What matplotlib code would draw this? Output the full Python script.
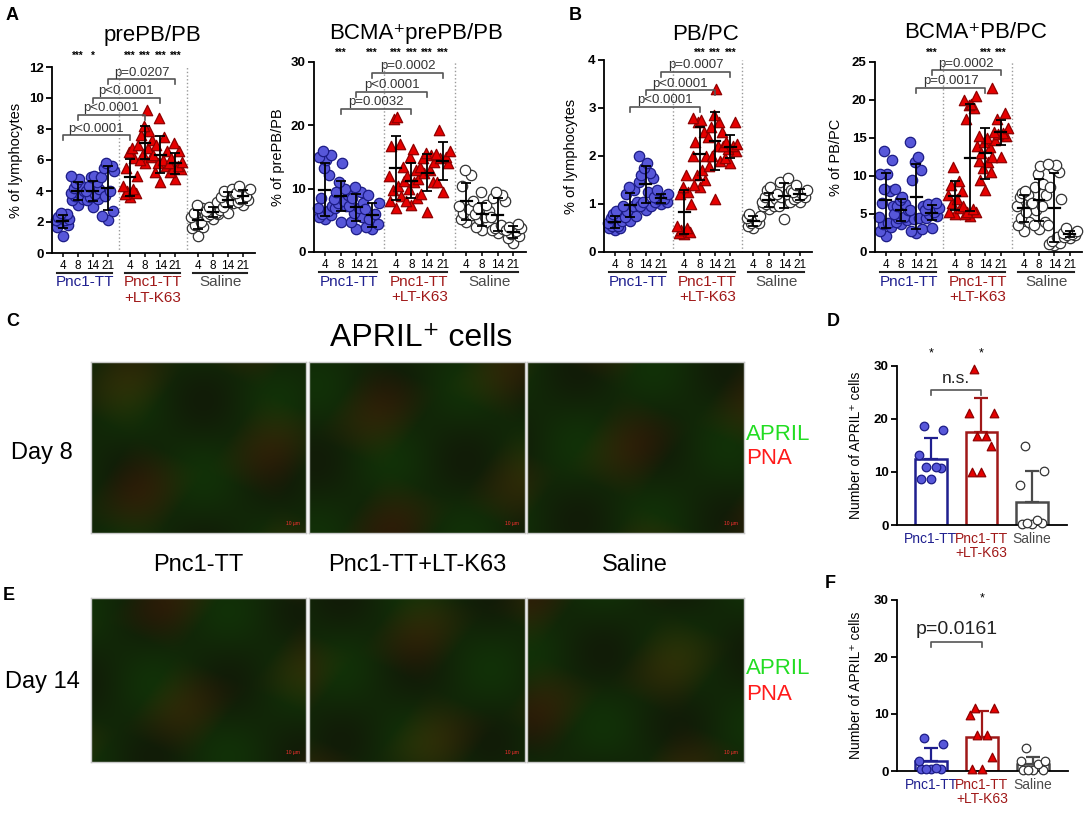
import numpy as np
import matplotlib
matplotlib.use("Agg")
import matplotlib.pyplot as plt
from matplotlib.transforms import blended_transform_factory, ScaledTranslation

# ---------------- data ----------------
days = ['4', '8', '14', '21']
groups = ['Pnc1-TT', 'Pnc1-TT\n+LT-K63', 'Saline']

# A: prePB/PB (% of lymphocytes), per day 4/8/14/21
prepb_pnc1 = [[1.1, 1.7, 1.8, 2.0, 2.1, 2.1, 2.2, 2.3, 2.5, 2.6],
              [3.1, 3.4, 3.5, 3.7, 3.8, 3.9, 4.0, 4.2, 4.3, 4.5, 4.8, 5.0],
              [3.0, 3.4, 3.5, 3.6, 3.8, 4.0, 4.1, 4.3, 4.6, 4.9, 5.0],
              [2.1, 2.4, 2.7, 3.7, 4.0, 4.9, 5.3, 5.5, 5.6, 5.8]]
prepb_ltk63 = [[3.6, 3.8, 3.9, 4.0, 4.1, 4.3, 5.0, 5.5, 6.1, 6.5, 6.8],
               [5.8, 6.0, 6.2, 6.4, 6.8, 7.0, 7.3, 7.6, 7.9, 8.2, 9.2],
               [4.6, 5.2, 5.6, 5.8, 6.0, 6.3, 6.6, 7.0, 7.5, 8.7],
               [4.8, 5.2, 5.4, 5.5, 5.6, 5.8, 5.9, 6.1, 6.6, 7.1]]
prepb_saline = [[1.1, 1.6, 1.7, 1.8, 2.0, 2.3, 2.5, 2.6, 2.9, 3.1],
                [2.2, 2.4, 2.5, 2.5, 2.6, 2.7, 2.8, 3.0, 3.3],
                [2.6, 3.0, 3.2, 3.3, 3.4, 3.6, 3.8, 4.0, 4.1],
                [3.1, 3.3, 3.4, 3.5, 3.7, 3.9, 4.1, 4.3]]

# A: BCMA+ prePB/PB (% of prePB/PB)
bcma_prepb_pnc1 = [[5.2, 5.5, 5.8, 6.0, 6.5, 7.0, 7.3, 8.5, 12.2, 13.3, 14.5, 15.0, 15.3, 16.0],
                   [4.8, 7.0, 7.3, 7.8, 8.0, 8.3, 9.0, 9.5, 10.0, 11.0, 14.0],
                   [3.7, 4.7, 5.5, 6.2, 7.0, 7.3, 7.7, 8.5, 9.5, 10.3],
                   [3.7, 4.0, 4.5, 5.2, 6.0, 6.8, 7.7, 9.0]]
bcma_prepb_ltk63 = [[7.0, 8.0, 8.8, 9.8, 10.5, 12.0, 13.5, 16.7, 17.0, 21.0, 21.3],
                    [7.5, 8.0, 8.5, 10.0, 11.0, 11.2, 11.5, 12.0, 13.0, 15.0, 16.3],
                    [6.3, 9.2, 11.0, 12.5, 13.0, 13.5, 14.2, 14.8, 15.3, 15.7],
                    [9.5, 11.0, 14.0, 14.8, 15.0, 15.5, 16.0, 19.2]]
bcma_prepb_saline = [[4.8, 5.2, 5.8, 6.2, 6.8, 7.3, 8.0, 10.5, 12.2, 13.0],
                     [3.5, 4.0, 4.8, 5.2, 5.5, 6.0, 6.5, 7.0, 7.5, 9.5],
                     [3.0, 3.5, 3.7, 3.8, 4.2, 5.5, 8.0, 8.5, 9.0, 9.5],
                     [1.5, 2.2, 2.5, 2.8, 3.3, 3.5, 3.8, 4.0, 4.5]]

# B: PB/PC (% of lymphocytes)
pbpc_pnc1 = [[0.45, 0.5, 0.5, 0.55, 0.55, 0.6, 0.65, 0.7, 0.75, 0.8, 0.85],
             [0.65, 0.72, 0.75, 0.85, 0.95, 0.95, 1.05, 1.2, 1.3, 1.35],
             [0.88, 0.95, 0.95, 1.05, 1.25, 1.45, 1.55, 1.6, 1.65, 1.75, 1.85, 2.0],
             [1.0, 1.05, 1.05, 1.1, 1.1, 1.15, 1.2, 1.3]]
pbpc_ltk63 = [[0.38, 0.4, 0.42, 0.45, 0.5, 0.55, 1.0, 1.2, 1.25, 1.35, 1.6],
              [1.35, 1.4, 1.5, 1.6, 1.7, 2.0, 2.0, 2.3, 2.5, 2.7, 2.75, 2.8],
              [1.1, 1.8, 1.9, 2.0, 2.2, 2.4, 2.5, 2.6, 2.7, 2.85, 3.4],
              [1.85, 1.95, 2.1, 2.15, 2.2, 2.2, 2.25, 2.3, 2.7]]
pbpc_saline = [[0.5, 0.55, 0.6, 0.6, 0.65, 0.7, 0.75, 0.8],
               [0.9, 0.95, 0.95, 1.0, 1.05, 1.05, 1.1, 1.15, 1.2, 1.3, 1.35],
               [0.68, 0.95, 1.05, 1.15, 1.2, 1.2, 1.3, 1.45, 1.55],
               [1.05, 1.1, 1.15, 1.15, 1.2, 1.25, 1.3, 1.4]]

# B: BCMA+ PB/PC (% of PB/PC)
bcma_pbpc_pnc1 = [[2.1, 2.8, 3.3, 3.7, 3.8, 4.6, 6.0, 6.5, 8.0, 8.3, 10.2, 10.3, 12.1, 13.3],
                  [3.7, 3.9, 4.2, 4.5, 4.6, 5.0, 5.5, 6.0, 6.3, 6.8, 7.3, 8.3],
                  [2.5, 2.7, 3.0, 4.3, 4.5, 5.5, 6.0, 9.5, 10.8, 11.8, 12.5, 14.5],
                  [3.2, 4.5, 4.8, 5.0, 5.2, 5.5, 5.8, 6.3, 6.4]]
bcma_pbpc_ltk63 = [[5.0, 5.2, 5.8, 6.5, 7.0, 7.5, 8.0, 8.8, 9.3, 11.2],
                   [4.7, 5.0, 5.2, 5.3, 5.6, 6.0, 14.0, 17.5, 19.0, 19.3, 19.5, 20.0, 20.5],
                   [8.2, 9.5, 10.5, 11.0, 11.8, 12.0, 12.5, 13.0, 13.8, 14.5, 15.0, 15.3, 21.6],
                   [12.5, 14.8, 15.3, 15.5, 15.6, 15.8, 16.3, 17.5, 18.3]]
bcma_pbpc_saline = [[2.8, 3.6, 4.0, 4.5, 5.2, 6.0, 6.5, 7.3, 7.5, 7.7, 8.0],
                    [3.0, 3.5, 4.0, 5.5, 6.0, 6.5, 7.5, 8.5, 9.0, 10.3, 11.3],
                    [0.9, 1.0, 1.2, 1.5, 2.0, 3.5, 7.0, 8.5, 10.5, 11.0, 11.5, 11.6],
                    [1.9, 2.0, 2.2, 2.3, 2.4, 2.5, 2.7, 3.1]]

# D / F: number of APRIL+ cells (day 8, day 14)
april_d8_pnc1 = [8.7, 8.7, 10.8, 11.0, 11.0, 13.2, 18.0, 18.6]
april_d8_ltk63 = [10.0, 10.0, 15.0, 16.7, 16.7, 21.2, 21.2, 29.5]
april_d8_saline = [0.2, 0.2, 0.3, 0.3, 1.0, 7.5, 10.2, 15.0]
april_d14_pnc1 = [0.3, 0.3, 0.3, 0.3, 0.5, 1.8, 4.7, 5.8]
april_d14_ltk63 = [0.4, 0.4, 2.5, 6.4, 6.4, 9.8, 11.0, 11.0]
april_d14_saline = [0.2, 0.2, 0.2, 0.2, 1.2, 1.8, 1.8, 4.0]

# ---------------- style ----------------
plt.rcParams['font.family'] = ['Liberation Sans', 'DejaVu Sans']
plt.rcParams['axes.linewidth'] = 1.3

W, H = 1084, 815
fig = plt.figure(figsize=(W / 100, H / 100), dpi=100)

GROUP_COLORS = ['#1f1f8f', '#a01818', '#4a4a4a']
MARKERS = [dict(marker='o', facecolors='#5757d9', edgecolors='#1c1c86'),
           dict(marker='^', facecolors='#e60000', edgecolors='#900000'),
           dict(marker='o', facecolors='white', edgecolors='#333333')]
JIT = [0, -0.8, 0.8, -0.4, 0.4, -1.0, 1.0, -0.6, 0.6, -0.2, 0.2, -0.9, 0.9, -0.3, 0.3]


def px_axes(l, t, r, b):
    return fig.add_axes([l / W, 1 - b / H, (r - l) / W, (b - t) / H])


def ftext(x, y, s, **kw):
    fig.text(x / W, 1 - y / H, s, **kw)


def offsets(n, width):
    return np.array([JIT[i % len(JIT)] for i in range(n)]) * width


def base_axes(ax, ymax, ystep, ylabel, label_dx):
    for s in ('top', 'right'):
        ax.spines[s].set_visible(False)
    ax.set_ylim(0, ymax)
    ticks = np.arange(0, ymax + 0.01, ystep)
    ax.set_yticks(ticks)
    ax.set_yticklabels([f'{t:g}' for t in ticks], fontweight='bold', fontsize=9.5)
    ax.tick_params(axis='y', width=1.3, length=4, pad=2)
    ax.set_ylabel(ylabel, fontsize=10.5)
    ax.yaxis.set_label_coords(label_dx, 0.5)


def scatter_panel(box, series, ymax, ystep, ylabel, label_px, title, title_xy,
                  brackets, stars, star_y):
    l, t, r, b = box
    ax = px_axes(l, t, r, b)
    base_axes(ax, ymax, ystep, ylabel, (label_px - l) / (r - l))
    ax.set_xlim(-0.7, 12.8)
    pos = []
    for g, data in enumerate(series):
        for d, vals in enumerate(data):
            x = g * 4.5 + d
            pos.append(x)
            v = np.sort(np.array(vals))
            ax.scatter(x + offsets(len(v), 0.45), v, s=56, linewidths=0.9,
                       zorder=2, clip_on=False, **MARKERS[g])
            m, sd = v.mean(), v.std(ddof=1)
            ax.errorbar(x, m, yerr=sd, fmt='none', ecolor='black', elinewidth=1.3,
                        capsize=3.5, capthick=1.3, zorder=4)
            ax.plot([x - 0.35, x + 0.35], [m, m], color='black', lw=1.6, zorder=4)
    for sep in (3.75, 8.25):
        ax.axvline(sep, color='#9a9a9a', ls=':', lw=1.0, zorder=0)
    ax.set_xticks(pos)
    ax.set_xticklabels(days * 3, fontsize=8.5)
    ax.tick_params(axis='x', width=1.1, length=3, pad=2)

    # group underlines and names
    line_tr = blended_transform_factory(ax.transData, ax.transAxes) + \
        ScaledTranslation(0, -0.20, fig.dpi_scale_trans)
    text_tr = blended_transform_factory(ax.transData, ax.transAxes) + \
        ScaledTranslation(0, -0.225, fig.dpi_scale_trans)
    for g in range(3):
        ax.plot([g * 4.5 - 0.35, g * 4.5 + 3.3], [0, 0], color='#222222', lw=1.5,
                transform=line_tr, clip_on=False)
        ax.text(g * 4.5 + 1.5, 0, groups[g], transform=text_tr, ha='center', va='top',
                color=GROUP_COLORS[g], fontsize=11, linespacing=1.1)

    tick = 0.025 * ymax
    for d, y, txt in brackets:
        x1, x2 = d, 4.5 + d
        ax.plot([x1, x1, x2, x2], [y - tick, y, y, y - tick], color='#555555', lw=1.2,
                clip_on=False, zorder=3)
        ax.annotate(txt, ((x1 + x2) / 2, y), xytext=(0, 0.5), textcoords='offset points',
                    ha='center', va='bottom', fontsize=9.5, color='#333333')
    for g, d, s in stars:
        ax.text(g * 4.5 + d, star_y, s, ha='center', va='center', fontsize=7,
                fontweight='bold', clip_on=False)
    ftext(title_xy[0], title_xy[1], title, fontsize=16, ha='center', va='center')
    return ax


def bar_panel(box, series, label_px):
    l, t, r, b = box
    ax = px_axes(l, t, r, b)
    base_axes(ax, 30, 10, 'Number of APRIL⁺ cells', (label_px - l) / (r - l))
    ax.yaxis.label.set_fontsize(10)
    ax.set_xlim(-0.67, 2.69)
    for g, vals in enumerate(series):
        v = np.sort(np.array(vals))
        m, sd = v.mean(), v.std(ddof=1)
        c = GROUP_COLORS[g]
        ax.bar(g, m, width=0.62, facecolor='white', edgecolor=c, linewidth=1.8, zorder=1)
        ax.errorbar(g, m, yerr=[[0], [sd]], fmt='none', ecolor=c, elinewidth=1.6,
                    capsize=5, capthick=1.6, zorder=2)
        ax.scatter(g + offsets(len(v), 0.24), v, s=38, linewidths=0.9, zorder=3,
                   clip_on=False, **MARKERS[g])
    ax.set_xticks([0, 1, 2])
    ax.set_xticklabels(groups, fontsize=10, linespacing=1.05)
    for lab, c in zip(ax.get_xticklabels(), GROUP_COLORS):
        lab.set_color(c)
    ax.tick_params(axis='x', length=0, pad=5)
    return ax


def bracket(ax, x1, x2, y, txt, size):
    ax.plot([x1, x1, x2, x2], [y - 0.9, y, y, y - 0.9], color='#555555', lw=1.2, clip_on=False)
    ax.annotate(txt, ((x1 + x2) / 2, y), xytext=(0, 3), textcoords='offset points',
                ha='center', va='bottom', fontsize=size, color='#222222')


def tissue(phase):
    yy, xx = np.mgrid[0:1:120j, 0:1:150j]
    red = 0.07 + 0.10 * np.clip(np.sin(7 * xx + 4 * yy + phase) *
                                np.cos(5 * yy - 3 * xx + 2 * phase), 0, 1)
    green = 0.15 + 0.04 * np.sin(9 * xx + phase) * np.sin(7 * yy + phase / 2)
    blue = 0.03 + 0 * xx
    return np.dstack([red, green, blue])


# ---------------- panels A / B ----------------
scatter_panel((52, 67, 255, 253), [prepb_pnc1, prepb_ltk63, prepb_saline], 12, 2,
              '% of lymphocytes', 23, 'prePB/PB', (152, 35),
              [(0, 7.6, 'p<0.0001'), (1, 8.9, 'p<0.0001'), (2, 10.0, 'p<0.0001'),
               (3, 11.2, 'p=0.0207')],
              [(0, 1, '***'), (0, 2, '*'), (1, 0, '***'), (1, 1, '***'), (1, 2, '***'),
               (1, 3, '***')], 12.7)

scatter_panel((314, 62, 526, 252), [bcma_prepb_pnc1, bcma_prepb_ltk63, bcma_prepb_saline],
              30, 10, '% of prePB/PB', 285, 'BCMA⁺prePB/PB', (416, 33),
              [(1, 22.6, 'p=0.0032'), (2, 25.3, 'p<0.0001'), (3, 28.3, 'p=0.0002')],
              [(0, 1, '***'), (0, 3, '***'), (1, 0, '***'), (1, 1, '***'), (1, 2, '***'),
               (1, 3, '***')], 31.4)

scatter_panel((604, 60, 812, 252), [pbpc_pnc1, pbpc_ltk63, pbpc_saline], 4, 1,
              '% of lymphocytes', 578, 'PB/PC', (706, 35),
              [(1, 3.02, 'p<0.0001'), (2, 3.37, 'p<0.0001'), (3, 3.75, 'p=0.0007')],
              [(1, 1, '***'), (1, 2, '***'), (1, 3, '***')], 4.14)

scatter_panel((875, 62, 1082, 252), [bcma_pbpc_pnc1, bcma_pbpc_ltk63, bcma_pbpc_saline],
              25, 5, '% of PB/PC', 843, 'BCMA⁺PB/PC', (976, 33),
              [(2, 21.6, 'p=0.0017'), (3, 23.9, 'p=0.0002')],
              [(0, 3, '***'), (1, 2, '***'), (1, 3, '***')], 26.2)

# ---------------- panels D / F ----------------
axd = bar_panel((897, 366, 1067, 525), [april_d8_pnc1, april_d8_ltk63, april_d8_saline], 863)
bracket(axd, 0, 1, 25.5, 'n.s.', 12.5)
for g in (0, 1):
    axd.text(g, 32.3, '*', ha='center', va='center', fontsize=9, clip_on=False)

axf = bar_panel((897, 600, 1068, 771), [april_d14_pnc1, april_d14_ltk63, april_d14_saline], 863)
bracket(axf, 0, 1, 22.6, 'p=0.0161', 14)
axf.text(1, 30.3, '*', ha='center', va='center', fontsize=9, clip_on=False)

# ---------------- panels C / E (microscopy placeholders) ----------------
img_cols = [(91, 306), (309, 525), (527, 744)]
for row, (top, bot) in enumerate([(362, 533), (598, 762)]):
    for k, (l, r) in enumerate(img_cols):
        ax = px_axes(l, top, r, bot)
        ax.imshow(tissue(1.3 * k + 2.1 * row), aspect='auto', interpolation='bilinear')
        ax.set_xticks([])
        ax.set_yticks([])
        for sp in ax.spines.values():
            sp.set_color('#c8c8c8')
            sp.set_linewidth(1.0)
        ax.text(0.97, 0.04, '10 µm', transform=ax.transAxes, ha='right', va='bottom',
                fontsize=3.5, color='#ff3030')

ftext(421, 338, 'APRIL⁺ cells', fontsize=23, ha='center', va='center')
ftext(42, 453, 'Day 8', fontsize=17, ha='center', va='center')
ftext(42, 682, 'Day 14', fontsize=17, ha='center', va='center')
for x, s in zip((198, 417, 635), ('Pnc1-TT', 'Pnc1-TT+LT-K63', 'Saline')):
    ftext(x, 565, s, fontsize=17, ha='center', va='center')
for y1, y2 in ((435, 458), (669, 694)):
    ftext(746, y1, 'APRIL', fontsize=16, color='#22dd22', ha='left', va='center')
    ftext(746, y2, 'PNA', fontsize=16, color='#ff1a1a', ha='left', va='center')

# panel letters
for letter, x, y in (('A', 12, 15), ('B', 575, 15), ('C', 13, 322), ('D', 833, 322),
                     ('E', 9, 596), ('F', 830, 583)):
    ftext(x, y, letter, fontsize=13, fontweight='bold', ha='center', va='center')

fig.savefig('out.png', dpi=100, facecolor='white')
